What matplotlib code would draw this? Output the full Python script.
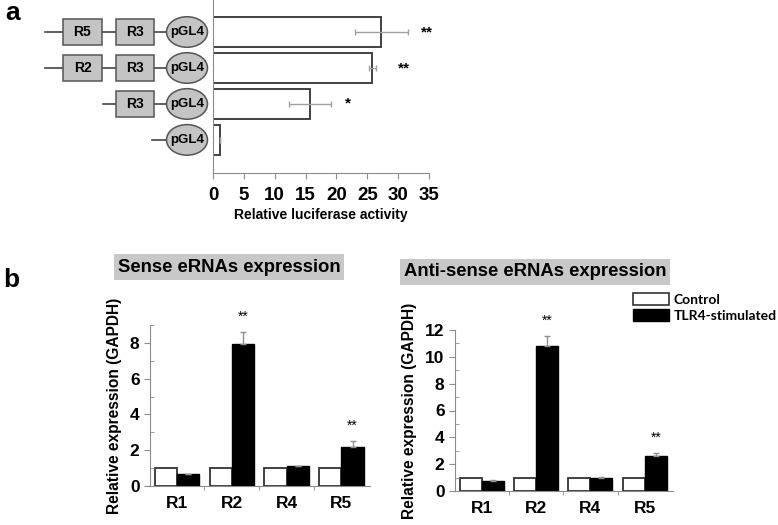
import matplotlib
matplotlib.use("Agg")
import matplotlib.pyplot as plt
from matplotlib.patches import Rectangle, Ellipse, Patch
from matplotlib.ticker import MultipleLocator

plt.rcParams['font.family'] = ['Liberation Sans', 'DejaVu Sans']
plt.rcParams['font.weight'] = 'bold'

# Panel a: luciferase reporter constructs
constructs = [["R5", "R3"], ["R2", "R3"], ["R3"], []]
luc_values = [27.3, 25.8, 15.7, 1.1]
luc_err = [4.3, 0.6, 3.4, 0.0]
luc_sig = ["**", "**", "*", ""]
luc_sig_x = [33.7, 30.0, 21.4, 0]
luc_ticks = [0, 5, 10, 15, 20, 25, 30, 35]

# Panel b: eRNA expression
regions = ["R1", "R2", "R4", "R5"]
sense_ctrl = [1.0, 1.0, 1.0, 1.0]
sense_tlr4 = [0.65, 7.95, 1.1, 2.2]
sense_err = [0.0, 0.65, 0.02, 0.3]
sense_sig = ["", "**", "", "**"]
anti_ctrl = [1.0, 1.0, 1.0, 1.0]
anti_tlr4 = [0.78, 10.8, 1.0, 2.6]
anti_err = [0.02, 0.75, 0.02, 0.2]
anti_sig = ["", "**", "", "**"]

W, H = 778, 525
fig = plt.figure(figsize=(W / 100, H / 100), dpi=100)


def px_axes(x0, y0, x1, y1):
    # pixel box (top-left origin) -> figure fraction axes
    return fig.add_axes([x0 / W, 1 - y1 / H, (x1 - x0) / W, (y1 - y0) / H])


spine_col = '#8c8c8c'
gray_fill = '#c4c4c4'

# ---- panel a bars
axa = px_axes(213, 0, 429, 173)
rows = list(range(len(luc_values)))
axa.barh(rows, luc_values, height=0.83, color='white', edgecolor='#333333', linewidth=1.3)
axa.errorbar(luc_values, rows, xerr=luc_err, fmt='none', ecolor='#a0a0a0',
             elinewidth=1, capsize=2, capthick=1)
for r, s, sx in zip(rows, luc_sig, luc_sig_x):
    if s:
        axa.text(sx, r, s, ha='left', va='center', fontsize=11, fontweight='bold')
axa.set_xlim(0, 35)
axa.set_ylim(3.92, -0.89)
axa.set_xticks(luc_ticks)
axa.set_xticklabels([str(t) for t in luc_ticks], fontsize=13.5, fontweight='bold')
axa.tick_params(axis='x', direction='out', length=4, color=spine_col, pad=6)
axa.set_yticks([])
for s in ['top', 'right']:
    axa.spines[s].set_visible(False)
for s in ['left', 'bottom']:
    axa.spines[s].set_color(spine_col)
axa.set_xlabel('Relative luciferase activity', fontsize=10, fontweight='bold', labelpad=3)

# ---- panel a construct diagram (x in pixels, y shared with bars)
axd = px_axes(0, 0, 213, 173)
axd.set_xlim(0, 213)
axd.set_ylim(3.92, -0.89)
axd.axis('off')
box_slots = [(63, 102), (116, 154)]
line_start = {2: 45, 1: 103, 0: 152}
ell_cx, ell_w, ell_h = 187, 41, 0.85
for r, parts in enumerate(constructs):
    axd.plot([line_start[len(parts)], ell_cx - ell_w / 2], [r, r], color='#444444', lw=1.2, zorder=1)
    slots = box_slots[len(box_slots) - len(parts):]
    for name, (x0, x1) in zip(parts, slots):
        axd.add_patch(Rectangle((x0, r - 0.36), x1 - x0, 0.72, facecolor=gray_fill,
                                edgecolor='#555555', lw=1.1, zorder=2))
        axd.text((x0 + x1) / 2, r, name, ha='center', va='center', fontsize=10, fontweight='bold')
    axd.add_patch(Ellipse((ell_cx, r), ell_w, ell_h, facecolor=gray_fill,
                          edgecolor='#555555', lw=1.1, zorder=2))
    axd.text(ell_cx, r, 'pGL4', ha='center', va='center', fontsize=9.5, fontweight='bold')


# ---- panel b
def expr_panel(ax, ctrl, tlr4, err, sig, ymax, step):
    x = list(range(len(regions)))
    bw = 0.405
    xc = [i - bw / 2 for i in x]
    xt = [i + bw / 2 for i in x]
    ax.bar(xc, ctrl, width=bw, color='white', edgecolor='#333333', linewidth=1.3)
    ax.bar(xt, tlr4, width=bw, color='black', edgecolor='black', linewidth=1)
    ax.errorbar(xt, tlr4, yerr=[[0] * len(err), err], fmt='none', ecolor='#909090',
                elinewidth=1, capsize=2.5, capthick=1)
    for xi, v, e, s in zip(xt, tlr4, err, sig):
        if s:
            ax.annotate(s, (xi, v + e), xytext=(0, 6), textcoords='offset points',
                        ha='center', va='bottom', fontsize=10, fontweight='normal')
    ax.set_xlim(-0.49, 3.52)
    ax.set_ylim(0, ymax)
    ax.set_xticks(x)
    ax.set_xticklabels(regions, fontsize=12.5, fontweight='bold')
    ax.set_xticks([i + 0.5 for i in x[:-1]], minor=True)
    ax.tick_params(axis='x', which='major', length=0, pad=7)
    ax.tick_params(axis='x', which='minor', direction='out', length=3, color=spine_col)
    ax.yaxis.set_major_locator(MultipleLocator(step))
    ax.yaxis.set_minor_locator(MultipleLocator(step / 2))
    ax.tick_params(axis='y', which='major', direction='out', length=4, color=spine_col,
                   labelsize=12.5)
    ax.tick_params(axis='y', which='minor', direction='in', length=3, color=spine_col)
    for lab in ax.get_yticklabels():
        lab.set_fontweight('bold')
    for s in ['top', 'right']:
        ax.spines[s].set_visible(False)
    for s in ['left', 'bottom']:
        ax.spines[s].set_color(spine_col)
    ax.set_ylabel('Relative expression (GAPDH)', fontsize=11.2, fontweight='bold', labelpad=6)


axs = px_axes(150, 325, 370, 486)
expr_panel(axs, sense_ctrl, sense_tlr4, sense_err, sense_sig, 9, 2)
axn = px_axes(455, 330, 673, 491)
expr_panel(axn, anti_ctrl, anti_tlr4, anti_err, anti_sig, 12, 2)

title_box = dict(boxstyle='square,pad=0.22', facecolor='#c8c8c8', edgecolor='none')
fig.text(229 / W, 1 - 267 / H, 'Sense eRNAs expression', ha='center', va='center',
         fontsize=13.3, fontweight='bold', bbox=title_box)
fig.text(535 / W, 1 - 272 / H, 'Anti-sense eRNAs expression', ha='center', va='center',
         fontsize=13.3, fontweight='bold', bbox=title_box)

handles = [Patch(facecolor='white', edgecolor='#333333', lw=1.2, label='Control'),
           Patch(facecolor='black', edgecolor='black', label='TLR4-stimulated')]
fig.legend(handles=handles, loc='upper left', bbox_to_anchor=(633 / W, 1 - 293 / H),
           frameon=False, handlelength=2.6, handleheight=1.0, handletextpad=0.3,
           labelspacing=0.2, borderaxespad=0, borderpad=0,
           prop={'family': ['Lato', 'DejaVu Sans'], 'weight': 'bold', 'size': 10})

fig.text(5 / W, 1 - 13 / H, 'a', ha='left', va='center', fontsize=19, fontweight='bold')
fig.text(3 / W, 1 - 280 / H, 'b', ha='left', va='center', fontsize=19, fontweight='bold')

fig.savefig('out.png', dpi=100)
